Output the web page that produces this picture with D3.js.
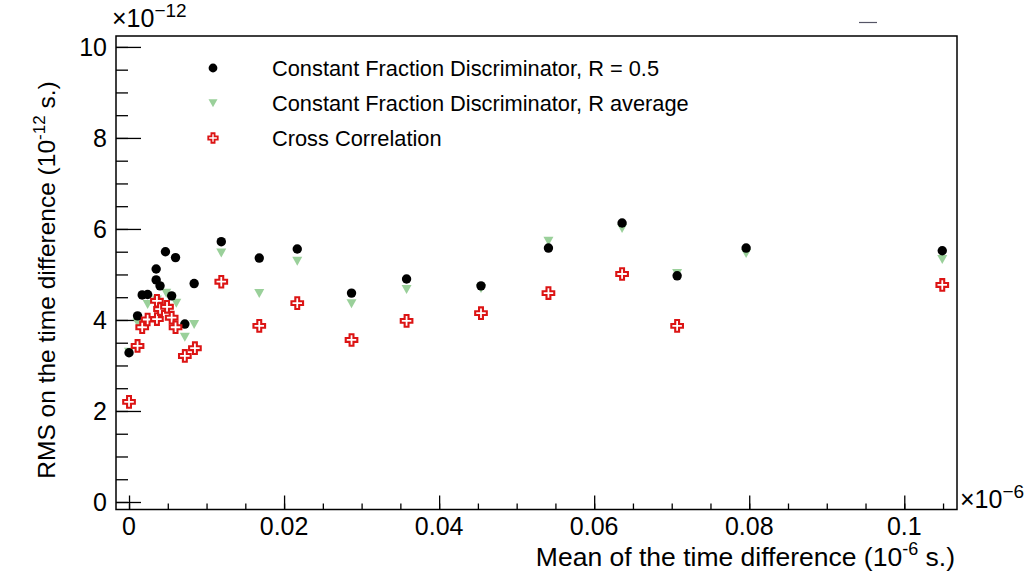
<!DOCTYPE html>
<html>
<head>
<meta charset="utf-8">
<script src="https://cdn.jsdelivr.net/npm/d3@7"></script>
<style>
  body { margin: 0; background: #fff; }
  svg { font-family: "Liberation Sans", Arial, sans-serif; }
</style>
</head>
<body>
<svg id="chart" width="1026" height="577"></svg>
<script>
// Data (x in 10^-6 s, y in 10^-12 s)
const cfdHalfX = [0.0000, 0.0011, 0.0017, 0.0024, 0.0035, 0.0035, 0.0040, 0.0047, 0.0055, 0.0060, 0.0072, 0.0084,
  0.0119, 0.0168, 0.0217, 0.0287, 0.0358, 0.0454, 0.0541, 0.0636, 0.0707, 0.0796, 0.1049];
const cfdHalfY = [3.28, 4.09, 4.55, 4.56, 5.12, 4.88, 4.75, 5.50, 4.53, 5.37, 3.91, 4.80,
  5.72, 5.36, 5.56, 4.59, 4.90, 4.75, 5.58, 6.13, 4.97, 5.58, 5.52];

const cfdAvgX = [0.0000, 0.0011, 0.0024, 0.0036, 0.0040, 0.0048, 0.0061, 0.0072, 0.0084,
  0.0119, 0.0168, 0.0217, 0.0287, 0.0358, 0.0454, 0.0541, 0.0636, 0.0707, 0.0796, 0.1049];
const cfdAvgY = [3.30, 3.95, 4.35, 4.45, 4.30, 4.60, 4.38, 3.63, 3.91,
  5.48, 4.59, 5.30, 4.37, 4.68, 4.70, 5.74, 6.02, 5.03, 5.47, 5.34];

const crossX = [0.0000, 0.0011, 0.0017, 0.0024, 0.0036, 0.0036, 0.0040, 0.0049, 0.0055, 0.0060, 0.0072, 0.0085,
  0.0119, 0.0168, 0.0217, 0.0287, 0.0358, 0.0454, 0.0541, 0.0636, 0.0707, 0.1049];
const crossY = [2.20, 3.43, 3.84, 4.01, 4.42, 4.02, 4.24, 4.29, 4.05, 3.84, 3.21, 3.38,
  4.84, 3.87, 4.37, 3.56, 3.98, 4.15, 4.59, 5.01, 3.87, 4.77];

const legendLabels = [
  'Constant Fraction Discriminator, R = 0.5',
  'Constant Fraction Discriminator, R average',
  'Cross Correlation',
];
const xMajor = [0, 0.02, 0.04, 0.06, 0.08, 0.1];
const yMajor = [0, 2, 4, 6, 8, 10];

// Layout
const LEFT = 116, RIGHT = 957, TOP = 36, BOTTOM = 509.5;

const svg = d3.select('#chart');

const x = d3.scaleLinear([-0.00168, 0.1068], [LEFT, RIGHT]);
const y = d3.scaleLinear([-0.165, 10.24], [BOTTOM, TOP]);

// Frame
svg.append('rect')
  .attr('x', LEFT).attr('y', TOP)
  .attr('width', RIGHT - LEFT).attr('height', BOTTOM - TOP)
  .attr('fill', 'none').attr('stroke', '#000').attr('stroke-width', 1.5);

// X axis ticks
const xMinor = d3.range(0, 0.1066, 0.005);
svg.append('g').attr('transform', `translate(0,${BOTTOM})`)
  .call(d3.axisTop(x).tickValues(xMinor).tickSize(6).tickFormat(''))
  .call(g => g.select('.domain').remove());
svg.append('g').attr('transform', `translate(0,${BOTTOM})`)
  .call(d3.axisTop(x).tickValues(xMajor).tickSize(14).tickFormat(''))
  .call(g => g.select('.domain').remove());

svg.append('g').selectAll('text').data(xMajor).join('text')
  .attr('x', d => x(d)).attr('y', 535)
  .attr('text-anchor', 'middle').attr('font-size', 25)
  .text(d => d3.format('~g')(d));

// Y axis ticks
const yMinor = d3.range(0, 10.01, 0.5);
svg.append('g').attr('transform', `translate(${LEFT},0)`)
  .call(d3.axisRight(y).tickValues(yMinor).tickSize(12).tickFormat(''))
  .call(g => g.select('.domain').remove());
svg.append('g').attr('transform', `translate(${LEFT},0)`)
  .call(d3.axisRight(y).tickValues(yMajor).tickSize(25).tickFormat(''))
  .call(g => g.select('.domain').remove());
svg.selectAll('.tick line').attr('stroke-width', 1.3);

svg.append('g').selectAll('text').data(yMajor).join('text')
  .attr('x', 107).attr('y', d => y(d) + 9)
  .attr('text-anchor', 'end').attr('font-size', 25)
  .text(d => d);

// Exponent labels
const expTop = svg.append('text').attr('x', 112).attr('y', 27).attr('font-size', 25);
expTop.append('tspan').text('\u00d710');
expTop.append('tspan').attr('dy', -10).attr('font-size', 19).text('\u221212');

const expRight = svg.append('text').attr('x', 960).attr('y', 508).attr('font-size', 25);
expRight.append('tspan').text('\u00d710');
expRight.append('tspan').attr('dy', -10).attr('font-size', 19).text('\u22126');

// Axis titles
const xTitle = svg.append('text').attr('x', 955).attr('y', 566)
  .attr('text-anchor', 'end').attr('font-size', 26.5);
xTitle.append('tspan').text('Mean of the time difference (10');
xTitle.append('tspan').attr('dy', -11).attr('font-size', 18).text('-6');
xTitle.append('tspan').attr('dy', 11).text(' s.)');

const yTitle = svg.append('text')
  .attr('transform', 'translate(55,280) rotate(-90)')
  .attr('text-anchor', 'middle').attr('font-size', 24.5);
yTitle.append('tspan').text('RMS on the time difference (10');
yTitle.append('tspan').attr('dy', -10).attr('font-size', 17).text('-12');
yTitle.append('tspan').attr('dy', 10).text(' s.)');

// Marker shapes
const crossPath = d3.symbol(d3.symbolCross, 75);
const triPath = 'M-5,-4 L5,-4 L0,5 Z';

function drawCircles(g, xs, ys) {
  g.selectAll('circle').data(xs.map((d, i) => [d, ys[i]])).join('circle')
    .attr('cx', d => x(d[0])).attr('cy', d => y(d[1]))
    .attr('r', 4.7).attr('fill', '#000');
}
function drawTris(g, xs, ys) {
  g.selectAll('path').data(xs.map((d, i) => [d, ys[i]])).join('path')
    .attr('d', triPath)
    .attr('transform', d => `translate(${x(d[0])},${y(d[1])})`)
    .attr('fill', '#9ad09a');
}
function drawCrosses(g, xs, ys) {
  g.selectAll('path').data(xs.map((d, i) => [d, ys[i]])).join('path')
    .attr('d', crossPath)
    .attr('transform', d => `translate(${x(d[0])},${y(d[1])})`)
    .attr('fill', '#fff').attr('stroke', '#dc1414').attr('stroke-width', 2.1);
}

drawTris(svg.append('g'), cfdAvgX, cfdAvgY);
drawCircles(svg.append('g'), cfdHalfX, cfdHalfY);
drawCrosses(svg.append('g'), crossX, crossY);

// Legend
const legend = svg.append('g');
const legendY = [68, 103, 138];
legend.append('circle').attr('cx', 213).attr('cy', legendY[0]).attr('r', 4.4).attr('fill', '#000');
legend.append('path').attr('d', 'M-4.5,-3.8 L4.5,-3.8 L0,4.2 Z')
  .attr('transform', `translate(213,${legendY[1]})`).attr('fill', '#9ad09a');
legend.append('path').attr('d', d3.symbol(d3.symbolCross, 50))
  .attr('transform', `translate(213,${legendY[2]})`)
  .attr('fill', '#fff').attr('stroke', '#dc1414').attr('stroke-width', 1.8);
legend.selectAll('text').data(legendLabels).join('text')
  .attr('x', 272).attr('y', (d, i) => legendY[i] + 7.5)
  .attr('font-size', 21.8)
  .text(d => d);

// small stray dash at top right
svg.append('line').attr('x1', 859).attr('x2', 877).attr('y1', 22.5).attr('y2', 22.5)
  .attr('stroke', '#556').attr('stroke-width', 1.2);
</script>
</body>
</html>
